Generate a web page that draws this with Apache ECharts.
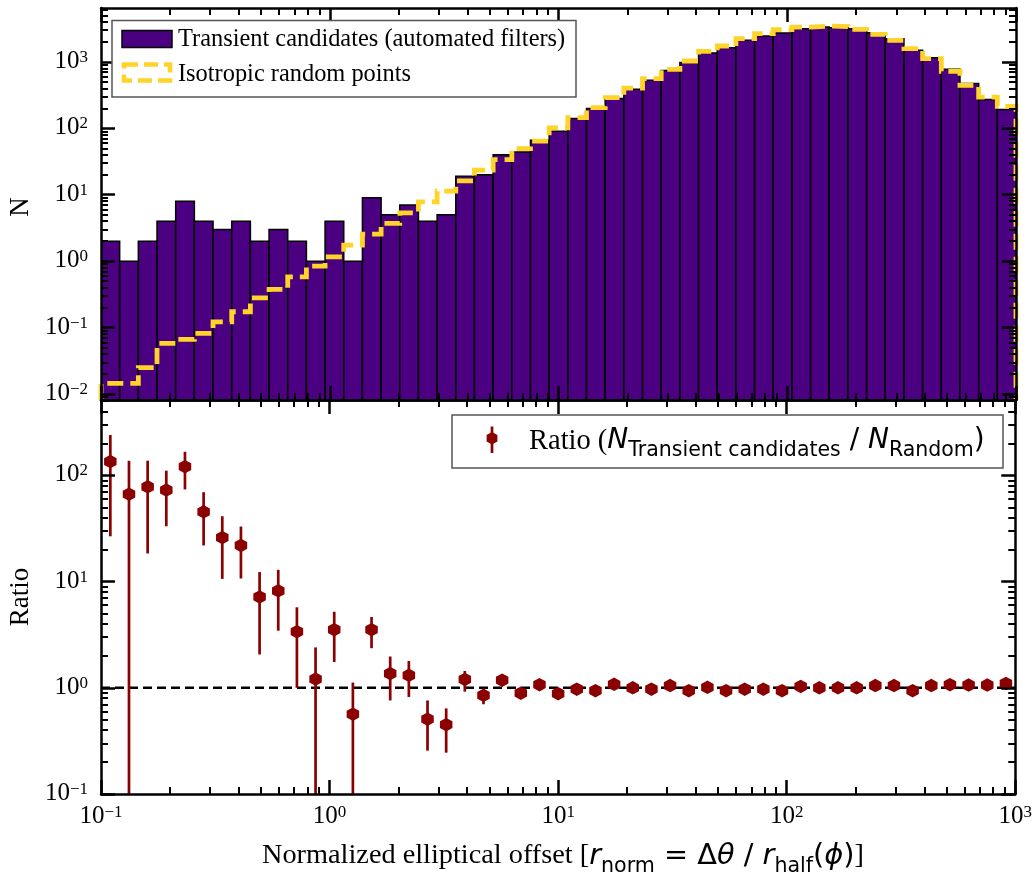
<!DOCTYPE html>
<html>
<head>
<meta charset="utf-8">
<script src="https://cdn.jsdelivr.net/npm/echarts@6/dist/echarts.min.js"></script>
<style>
  html, body { margin: 0; padding: 0; background: #fff; }
  #chart { width: 1035px; height: 872px; }
</style>
</head>
<body>
<div id="chart"></div>
<script>
// 49 logarithmic offset bins spanning 0.1 .. 1000
const BIN_COUNT = 49;
const X_RANGE = [0.1, 1000];

// Transient candidates per bin (automated filters)
const candidateCounts = [
  2, 1, 2, 4, 8, 4, 3, 4, 2, 3,
  2, 1, 4, 1, 9, 5, 7, 4, 5, 19,
  20, 40, 44, 66, 90, 140, 198, 280, 386, 527,
  740, 973, 1357, 1635, 2105, 2444, 2711, 3155, 3337, 3265,
  3155, 2748, 2233, 1489, 1156, 771, 470, 270, 191
];

// Isotropic random points per bin (normalised)
const randomCounts = [
  0.0145, 0.0145, 0.0249, 0.0578, 0.0664, 0.0817, 0.122, 0.173, 0.28, 0.375,
  0.58, 0.84, 1.16, 1.74, 2.55, 3.69, 5.33, 7.8, 11.3, 16.1,
  23.4, 33.8, 49.5, 64, 101, 145, 205, 290, 403, 559,
  771, 1028, 1438, 1730, 2233, 2654, 3047, 3337, 3454, 3380,
  3082, 2593, 2105, 1578, 1117, 719, 443, 295, 214
];

// Ratio N_transient / N_random with its error interval (0 = open to the axis floor)
const ratioValues = [
  135, 66.6, 78, 72.7, 120.8, 45.4, 26, 21.9, 7.17, 8.2,
  3.38, 1.21, 3.53, 0.565, 3.53, 1.36, 1.31, 0.507, 0.45, 1.2,
  0.85, 1.18, 0.89, 1.07, 0.88, 0.97, 0.94, 1.08, 1.0, 0.97,
  1.05, 0.94, 1.01, 0.94, 0.97, 0.97, 0.94, 1.03, 1.0, 1.0,
  1.0, 1.05, 1.05, 0.94, 1.05, 1.07, 1.06, 1.06, 1.1
];
const ratioUpper = [
  240, 137.6, 137.6, 110.8, 167, 69.5, 41.3, 33, 12.3, 12.9,
  5.73, 2.4, 5.2, 1.12, 4.64, 1.97, 1.79, 0.76, 0.64, 1.44,
  0.98, 1.29, 0.97, 1.13, 0.93, 1.01, 0.97, 1.11, 1.03, 0.99,
  1.07, 0.96, 1.03, 0.96, 0.99, 0.98, 0.95, 1.04, 1.01, 1.01,
  1.01, 1.06, 1.06, 0.95, 1.06, 1.08, 1.07, 1.07, 1.12
];
const ratioLower = [
  26.7, 0, 18.4, 33.2, 73.8, 21.9, 10.6, 10.7, 2.06, 3.45,
  1.0, 0, 1.75, 0, 2.36, 0.76, 0.82, 0.256, 0.245, 0.92,
  0.7, 1.05, 0.82, 1.01, 0.83, 0.93, 0.91, 1.05, 0.97, 0.95,
  1.03, 0.92, 0.99, 0.92, 0.95, 0.96, 0.93, 1.02, 0.99, 0.99,
  0.99, 1.04, 1.04, 0.93, 1.04, 1.06, 1.05, 1.05, 1.08
];

// Tick decades
const xTickExponents = [-1, 0, 1, 2, 3];
const countTickExponents = [-2, -1, 0, 1, 2, 3];
const ratioTickExponents = [-1, 0, 1, 2];

// Panel value ranges
const COUNT_RANGE = [Math.pow(10, -2.09), Math.pow(10, 3.81)];
const RATIO_RANGE = [0.1, Math.pow(10, 2.71)];

// ---------------------------------------------------------------
const binEdges = [];
for (let i = 0; i <= BIN_COUNT; i++) {
  const lo = Math.log10(X_RANGE[0]), hi = Math.log10(X_RANGE[1]);
  binEdges.push(Math.pow(10, lo + (hi - lo) * i / BIN_COUNT));
}
const binCenters = candidateCounts.map((_, i) => Math.sqrt(binEdges[i] * binEdges[i + 1]));

const SERIF = '"Liberation Serif", "Times New Roman", serif';
const SANS = '"DejaVu Sans", "Liberation Sans", sans-serif';
const INDIGO = '#4B0082';
const GOLD = '#FFD42A';
const DARKRED = '#8B0000';

const decades = exps => exps.map(e => Math.pow(10, e));
function minorTicks(range) {
  const out = [];
  for (let e = -4; e <= 4; e++) {
    for (let m = 2; m <= 9; m++) {
      const v = m * Math.pow(10, e);
      if (v > range[0] && v < range[1]) out.push(v);
    }
  }
  return out;
}
const powLabel = v => {
  const e = Math.round(Math.log10(v));
  return '{b|10}{s|' + (e < 0 ? '\u2212' + (-e) : String(e)) + '}';
};
const labelRich = {
  b: { fontFamily: SERIF, fontSize: 25, lineHeight: 26, verticalAlign: 'top', color: '#000' },
  s: { fontFamily: SERIF, fontSize: 17, lineHeight: 17, verticalAlign: 'top', color: '#000' }
};

// Log axes for one panel direction: majors + minors on both edges, ticks pointing inward
function axisSet(dim, gridIndex, range, majors, labelSide) {
  const sides = dim === 'x' ? ['bottom', 'top'] : ['left', 'right'];
  const minors = minorTicks(range);
  const out = [];
  sides.forEach(pos => {
    [[majors, 14, 2.5], [minors, 7, 2]].forEach(([vals, len, w], k) => {
      const showLabel = k === 0 && pos === labelSide;
      out.push({
        type: 'log', logBase: 10, gridIndex, position: pos,
        min: range[0], max: range[1], z: 10,
        axisLine: { show: k === 0, onZero: false, lineStyle: { color: '#000', width: 2.5 } },
        axisTick: { show: true, inside: true, length: len, customValues: vals,
                    lineStyle: { color: '#000', width: w } },
        axisLabel: showLabel
          ? { show: true, customValues: majors, formatter: powLabel, rich: labelRich,
              margin: dim === 'x' ? 10 : 13 }
          : { show: false },
        splitLine: { show: false },
        minorTick: { show: false },
        minorSplitLine: { show: false },
        axisPointer: { show: false }
      });
    });
  });
  return out;
}

const xMajors = decades(xTickExponents);
const xAxes = [
  ...axisSet('x', 0, X_RANGE, xMajors, null),
  ...axisSet('x', 1, X_RANGE, xMajors, 'bottom')
];
const yAxes = [
  ...axisSet('y', 0, COUNT_RANGE, decades(countTickExponents), 'left'),
  ...axisSet('y', 1, RATIO_RANGE, decades(ratioTickExponents), 'left')
];

// Dashed step outline of the random-point histogram
const stepData = [[binEdges[0], COUNT_RANGE[0]]];
randomCounts.forEach((v, i) => {
  stepData.push([binEdges[i], v], [binEdges[i + 1], v]);
});
stepData.push([binEdges[BIN_COUNT], COUNT_RANGE[0]]);

const hexagon = 'path://M0,-1 L0.866,-0.5 L0.866,0.5 L0,1 L-0.866,0.5 L-0.866,-0.5 Z';

const option = {
  animation: false,
  backgroundColor: '#fff',
  grid: [
    { left: 101, top: 8, width: 915, height: 392, containLabel: false },
    { left: 101, top: 400, width: 915, height: 394, containLabel: false }
  ],
  xAxis: xAxes,
  yAxis: yAxes,
  series: [
    {
      name: 'Transient candidates (automated filters)',
      type: 'custom', xAxisIndex: 0, yAxisIndex: 0, z: 2,
      data: candidateCounts.map((n, i) => [binEdges[i], binEdges[i + 1], n]),
      encode: { x: [0, 1], y: 2 },
      clip: true,
      renderItem(params, api) {
        const a = api.coord([api.value(0), api.value(2)]);
        const b = api.coord([api.value(1), api.value(2)]);
        const cs = params.coordSys;
        const floor = cs.y + cs.height;
        return {
          type: 'rect',
          shape: { x: a[0], y: a[1], width: b[0] - a[0], height: floor - a[1] },
          style: { fill: INDIGO, stroke: '#000', lineWidth: 1.5 }
        };
      }
    },
    {
      name: 'Isotropic random points',
      type: 'line', xAxisIndex: 0, yAxisIndex: 0, z: 4,
      data: stepData, showSymbol: false, symbol: 'none', clip: true,
      lineStyle: { color: GOLD, width: 4.8, type: [16, 7], cap: 'butt', join: 'miter' }
    },
    {
      name: 'unity',
      type: 'line', xAxisIndex: 4, yAxisIndex: 4, z: 2,
      data: [[X_RANGE[0], 1], [X_RANGE[1], 1]], symbol: 'none',
      lineStyle: { color: '#000', width: 2.5, type: [9, 5] }
    },
    {
      name: 'ratio errors',
      type: 'custom', xAxisIndex: 4, yAxisIndex: 4, z: 3,
      data: ratioValues.map((r, i) => [binCenters[i], ratioLower[i], ratioUpper[i]]),
      encode: { x: 0, y: [1, 2] },
      clip: true,
      renderItem(params, api) {
        const cs = params.coordSys;
        const x = api.value(0);
        const top = api.coord([x, api.value(2)]);
        const lo = api.value(1);
        const bottom = lo > 0 ? api.coord([x, lo])[1] : cs.y + cs.height;
        return {
          type: 'line',
          shape: { x1: top[0], y1: top[1], x2: top[0], y2: bottom },
          style: { stroke: DARKRED, lineWidth: 2.7 }
        };
      }
    },
    {
      name: 'Ratio',
      type: 'scatter', xAxisIndex: 4, yAxisIndex: 4, z: 5,
      data: ratioValues.map((r, i) => [binCenters[i], r]),
      symbol: hexagon, symbolSize: [12.5, 13.5],
      itemStyle: { color: DARKRED, opacity: 1 },
      emphasis: { disabled: true }
    }
  ],
  graphic: [
    // upper legend
    { type: 'rect', shape: { x: 112, y: 20.5, width: 464, height: 76.5 },
      style: { fill: '#fff', stroke: '#555', lineWidth: 1.5 }, z: 20 },
    { type: 'rect', shape: { x: 122, y: 30.5, width: 50, height: 17 },
      style: { fill: INDIGO, stroke: '#000', lineWidth: 1.5 }, z: 21 },
    { type: 'text', x: 178, y: 39.5, z: 21,
      style: { text: 'Transient candidates (automated filters)', fontFamily: SERIF, fontSize: 24.4,
               fill: '#000', verticalAlign: 'middle' } },
    { type: 'rect', shape: { x: 124, y: 64.5, width: 46, height: 16 },
      style: { fill: 'none', stroke: GOLD, lineWidth: 4.5, lineDash: [14, 6] }, z: 21 },
    { type: 'text', x: 178, y: 74.5, z: 21,
      style: { text: 'Isotropic random points', fontFamily: SERIF, fontSize: 24.4,
               fill: '#000', verticalAlign: 'middle' } },

    // lower legend
    { type: 'rect', shape: { x: 452, y: 415, width: 551, height: 53 },
      style: { fill: '#fff', stroke: '#555', lineWidth: 1.5 }, z: 20 },
    { type: 'line', shape: { x1: 492, y1: 426.5, x2: 492, y2: 453 },
      style: { stroke: DARKRED, lineWidth: 2.7 }, z: 21 },
    { type: 'polygon', z: 22,
      shape: { points: [[492, 432], [497.4, 435], [497.4, 441.5], [492, 444.5], [486.6, 441.5], [486.6, 435]] },
      style: { fill: DARKRED } },
    { type: 'text', x: 529, y: 442, z: 21,
      style: {
        text: '{r|Ratio (}{n|N}{sub|Transient candidates}{m| / }{n|N}{sub|Random}{m|)}',
        verticalAlign: 'middle',
        rich: {
          r: { fontFamily: SERIF, fontSize: 28.5, lineHeight: 30, verticalAlign: 'top', fill: '#000' },
          n: { fontFamily: SANS, fontStyle: 'italic', fontSize: 28, lineHeight: 30, verticalAlign: 'top', fill: '#000' },
          m: { fontFamily: SANS, fontSize: 28, lineHeight: 30, verticalAlign: 'top', fill: '#000' },
          sub: { fontFamily: SANS, fontSize: 20.5, lineHeight: 20.5, verticalAlign: 'top', padding: [13, 0, 0, 0], fill: '#000' }
        }
      } },

    // axis titles
    { type: 'text', x: 21, y: 207, rotation: Math.PI / 2, z: 21,
      style: { text: 'N', fontFamily: SERIF, fontSize: 27, fill: '#000',
               align: 'center', verticalAlign: 'middle' } },
    { type: 'text', x: 21, y: 597, rotation: Math.PI / 2, z: 21,
      style: { text: 'Ratio', fontFamily: SERIF, fontSize: 27, fill: '#000',
               align: 'center', verticalAlign: 'middle' } },
    { type: 'text', x: 563, y: 857, z: 21,
      style: {
        text: '{s|Normalized elliptical offset [}{i|r}{sub|norm}{m| = \u0394}{i|\u03b8}{m| / }{i|r}{sub|half}{m|(}{i|\u03d5}{m|)}{s|]}',
        align: 'center', verticalAlign: 'middle',
        rich: {
          s: { fontFamily: SERIF, fontSize: 28.3, lineHeight: 30, verticalAlign: 'top', fill: '#000' },
          i: { fontFamily: SANS, fontStyle: 'italic', fontSize: 28.8, lineHeight: 30, verticalAlign: 'top', fill: '#000' },
          m: { fontFamily: SANS, fontSize: 28.8, lineHeight: 30, verticalAlign: 'top', fill: '#000' },
          sub: { fontFamily: SANS, fontSize: 20.6, lineHeight: 20.6, verticalAlign: 'top', padding: [14, 0, 0, 0], fill: '#000' }
        }
      } }
  ]
};

const chart = echarts.init(document.getElementById('chart'), null, { renderer: 'canvas' });
chart.setOption(option);
</script>
</body>
</html>
